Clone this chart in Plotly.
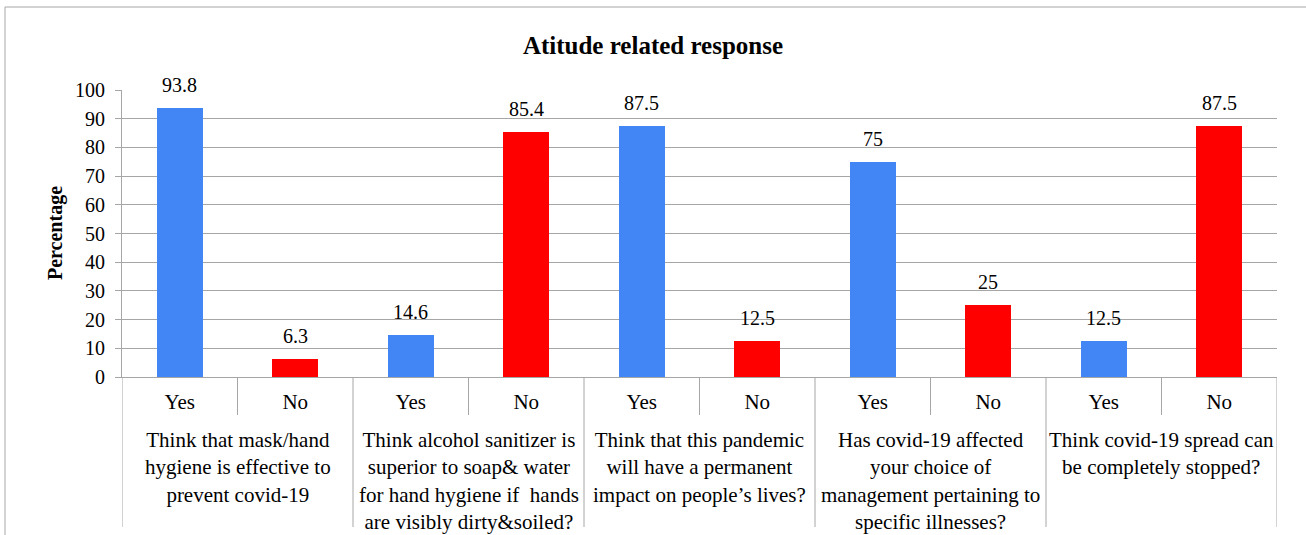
import plotly.graph_objects as go

# ---- data ----
questions = [
    "Think that mask/hand<br>hygiene is effective to<br>prevent covid-19",
    "Think alcohol sanitizer is<br>superior to soap& water<br>for hand hygiene if  hands<br>are visibly dirty&soiled?",
    "Think that this pandemic<br>will have a permanent<br>impact on people’s lives?",
    "Has covid-19 affected<br>your choice of<br>management pertaining to<br>specific illnesses?",
    "Think covid-19 spread can<br>be completely stopped?",
]
answers = ["Yes", "No"]
yes_values = [93.8, 14.6, 87.5, 75, 12.5]
no_values = [6.3, 85.4, 12.5, 25, 87.5]
y_ticks = list(range(0, 101, 10))
title_text = "Atitude related response"
y_title = "Percentage"

# ---- style ----
FONT = "Liberation Serif"
GRID = "#a6a6a6"
BLUE = "#4285F4"
RED = "#FF0000"
W, H = 1306, 535
ML, MR, MT, MB = 122, 29, 90, 158
plot_w = W - ML - MR
plot_h = H - MT - MB

n = len(questions)
x_yes = [2 * i for i in range(n)]
x_no = [2 * i + 1 for i in range(n)]
x_all = list(range(2 * n))
tick_text = [answers[i % 2] for i in x_all]

fig = go.Figure()
annotations = []
for xs, vals, col in [(x_yes, yes_values, BLUE), (x_no, no_values, RED)]:
    fig.add_trace(go.Bar(
        x=xs, y=vals, width=0.4, marker=dict(color=col, line=dict(width=0)),
        hoverinfo="skip",
    ))
    for xv, v in zip(xs, vals):
        annotations.append(dict(x=xv, y=v, xref="x", yref="y", text=f"{v:g}",
                                showarrow=False, yanchor="bottom", xanchor="center",
                                yshift=10,
                                font=dict(family=FONT, size=20, color="black")))

def py(pix):
    # convert page pixel y to paper coordinate
    return (H - MB - pix) / plot_h

shapes = []
for i in range(n):
    shapes.append(dict(type="line", xref="x", yref="paper", x0=2 * i + 0.5, x1=2 * i + 0.5,
                       y0=0, y1=py(415), line=dict(color=GRID, width=1)))
for i in range(n + 1):
    shapes.append(dict(type="line", xref="x", yref="paper", x0=2 * i - 0.5, x1=2 * i - 0.5,
                       y0=0, y1=py(527), line=dict(color=GRID, width=1)))
shapes.append(dict(type="rect", xref="paper", yref="paper",
                   x0=(5 - ML) / plot_w, x1=1.2, y0=py(7), y1=-1,
                   line=dict(color=GRID, width=1), layer="below"))

for i, q in enumerate(questions):
    annotations.append(dict(x=2 * i + 0.5, xref="x", y=py(426), yref="paper",
                            yanchor="top", xanchor="center", showarrow=False,
                            text=q, align="center",
                            font=dict(family=FONT, size=21, color="black")))
annotations.append(dict(x=(55 - ML) / plot_w, xref="paper", y=py(233), yref="paper",
                        xanchor="center", yanchor="middle",
                        text=f"<b>{y_title}</b>", textangle=-90, showarrow=False,
                        font=dict(family=FONT, size=20, color="black")))

fig.update_layout(
    width=W, height=H,
    margin=dict(l=ML, r=MR, t=MT, b=MB),
    paper_bgcolor="white", plot_bgcolor="white",
    showlegend=False, hovermode=False,
    title=dict(text=f"<b>{title_text}</b>", x=0.5, xref="container", xanchor="center",
               y=1 - 45 / H, yref="container", yanchor="middle",
               font=dict(family=FONT, size=25, color="black")),
    shapes=shapes, annotations=annotations,
    bargap=0,
)
fig.update_xaxes(range=[-0.5, 2 * n - 0.5], tickvals=x_all, ticktext=tick_text,
                 showgrid=False, zeroline=False, showline=True, linecolor=GRID, linewidth=1,
                 ticks="", ticklabelstandoff=6,
                 tickfont=dict(family=FONT, size=21, color="black"))
fig.update_yaxes(range=[0, 100], tickvals=y_ticks, showgrid=True, gridcolor=GRID, gridwidth=1,
                 zeroline=False, showline=True, linecolor=GRID, linewidth=1,
                 ticks="outside", ticklen=6, tickcolor=GRID, ticklabelstandoff=6,
                 tickfont=dict(family=FONT, size=20, color="black"))

fig.write_html("out.html", config={"displayModeBar": False},
               post_script="document.body.style.margin='0px';")
